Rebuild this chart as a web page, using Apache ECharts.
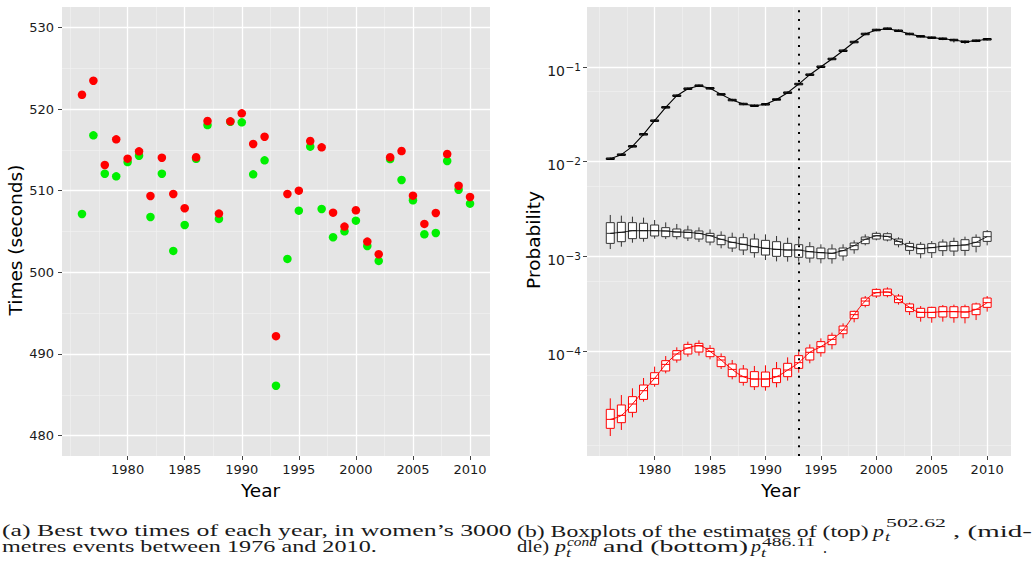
<!DOCTYPE html>
<html><head><meta charset="utf-8">
<script src="https://cdn.jsdelivr.net/npm/echarts@6/dist/echarts.min.js"></script>
<style>html,body{margin:0;padding:0;background:#fff}#c{width:1033px;height:568px}</style>
</head><body><div id="c"></div>
<script>
// ---------------- DATA ----------------
const years = [1976,1977,1978,1979,1980,1981,1982,1983,1984,1985,1986,1987,1988,1989,1990,1991,1992,1993,1994,1995,1996,1997,1998,1999,2000,2001,2002,2003,2004,2005,2006,2007,2008,2009,2010];
// (a) best (green) and second best (red) times, seconds
const bestTime = [507.15,516.78,512.08,511.76,513.51,514.28,506.78,512.08,502.62,505.80,513.90,518.04,506.54,518.45,518.37,512.00,513.72,486.11,501.64,507.55,515.39,507.76,504.30,505.03,506.33,503.23,501.40,513.88,511.31,508.82,504.66,504.82,513.64,510.12,508.41];
const secondTime = [521.75,523.47,513.15,516.29,513.92,514.82,509.35,514.04,509.60,507.85,514.09,518.53,507.19,518.49,519.47,515.72,516.61,492.18,509.60,510.00,516.08,515.31,507.31,505.60,507.60,503.76,502.22,514.09,514.86,509.39,505.93,507.27,514.49,510.61,509.23];
const timeTicks = [480,490,500,510,520,530];
const timeMinor = [485,495,505,515,525];
const yearTicks = [1980,1985,1990,1995,2000,2005,2010];
const yearMinor = [1975,1977.5,1982.5,1987.5,1992.5,1997.5,2002.5,2007.5];

// (b) boxplot statistics, stored as log10(probability): whisker high, Q3, median, Q1, whisker low
const topHigh = [-1.956,-1.913,-1.825,-1.698,-1.554,-1.413,-1.290,-1.216,-1.184,-1.212,-1.276,-1.336,-1.378,-1.396,-1.381,-1.330,-1.258,-1.167,-1.068,-0.984,-0.902,-0.815,-0.723,-0.638,-0.596,-0.582,-0.604,-0.638,-0.663,-0.677,-0.688,-0.702,-0.720,-0.709,-0.694];
const topQ3   = [-1.961,-1.918,-1.830,-1.703,-1.559,-1.418,-1.295,-1.221,-1.189,-1.217,-1.281,-1.341,-1.383,-1.401,-1.386,-1.335,-1.263,-1.172,-1.073,-0.989,-0.907,-0.820,-0.728,-0.643,-0.601,-0.587,-0.609,-0.643,-0.668,-0.682,-0.693,-0.707,-0.725,-0.714,-0.699];
const topMed  = [-1.969,-1.926,-1.838,-1.711,-1.567,-1.426,-1.303,-1.229,-1.197,-1.225,-1.289,-1.349,-1.391,-1.409,-1.394,-1.343,-1.271,-1.180,-1.081,-0.997,-0.915,-0.828,-0.736,-0.651,-0.609,-0.595,-0.617,-0.651,-0.676,-0.690,-0.701,-0.715,-0.733,-0.722,-0.707];
const topQ1   = [-1.977,-1.934,-1.846,-1.719,-1.575,-1.434,-1.311,-1.237,-1.205,-1.233,-1.297,-1.357,-1.399,-1.417,-1.402,-1.351,-1.279,-1.188,-1.089,-1.005,-0.923,-0.836,-0.744,-0.659,-0.617,-0.603,-0.625,-0.659,-0.684,-0.698,-0.709,-0.723,-0.741,-0.730,-0.715];
const topLow  = [-1.982,-1.939,-1.851,-1.724,-1.580,-1.439,-1.316,-1.242,-1.210,-1.238,-1.302,-1.362,-1.404,-1.422,-1.407,-1.356,-1.284,-1.193,-1.094,-1.010,-0.928,-0.841,-0.749,-0.664,-0.622,-0.608,-0.630,-0.664,-0.689,-0.703,-0.716,-0.740,-0.755,-0.737,-0.720];

const condHigh = [-2.563,-2.570,-2.581,-2.591,-2.616,-2.641,-2.658,-2.676,-2.694,-2.715,-2.736,-2.750,-2.757,-2.761,-2.768,-2.785,-2.803,-2.817,-2.849,-2.873,-2.873,-2.873,-2.831,-2.768,-2.739,-2.746,-2.799,-2.838,-2.849,-2.838,-2.820,-2.803,-2.792,-2.768,-2.722];
const condQ3   = [-2.644,-2.641,-2.644,-2.651,-2.669,-2.697,-2.711,-2.722,-2.732,-2.757,-2.778,-2.799,-2.803,-2.817,-2.831,-2.845,-2.863,-2.877,-2.898,-2.912,-2.922,-2.912,-2.859,-2.796,-2.757,-2.761,-2.817,-2.863,-2.873,-2.866,-2.849,-2.842,-2.824,-2.799,-2.739];
const condMed  = [-2.757,-2.746,-2.729,-2.729,-2.729,-2.732,-2.743,-2.746,-2.757,-2.782,-2.820,-2.852,-2.873,-2.898,-2.915,-2.926,-2.933,-2.933,-2.951,-2.961,-2.968,-2.940,-2.887,-2.820,-2.782,-2.789,-2.842,-2.898,-2.919,-2.908,-2.894,-2.887,-2.880,-2.852,-2.792];
const condQ1   = [-2.863,-2.845,-2.813,-2.810,-2.785,-2.792,-2.792,-2.806,-2.817,-2.849,-2.877,-2.912,-2.933,-2.961,-2.986,-3.000,-3.003,-3.010,-3.018,-3.025,-3.025,-2.996,-2.930,-2.866,-2.817,-2.827,-2.877,-2.937,-2.972,-2.961,-2.940,-2.944,-2.937,-2.894,-2.842];
const condLow  = [-2.923,-2.898,-2.856,-2.845,-2.813,-2.817,-2.820,-2.838,-2.849,-2.884,-2.915,-2.954,-2.986,-3.014,-3.039,-3.053,-3.056,-3.056,-3.067,-3.074,-3.077,-3.046,-2.972,-2.884,-2.831,-2.842,-2.905,-2.982,-3.021,-3.018,-2.996,-2.996,-2.993,-2.958,-2.884];

const lowHigh = [-4.500,-4.465,-4.394,-4.285,-4.165,-4.053,-3.961,-3.901,-3.887,-3.937,-4.025,-4.095,-4.148,-4.158,-4.151,-4.116,-4.067,-4.007,-3.930,-3.866,-3.806,-3.708,-3.574,-3.419,-3.338,-3.327,-3.398,-3.489,-3.525,-3.532,-3.514,-3.510,-3.510,-3.489,-3.419];
const lowQ3   = [-4.616,-4.570,-4.482,-4.359,-4.229,-4.102,-3.996,-3.930,-3.919,-3.972,-4.060,-4.137,-4.190,-4.218,-4.222,-4.187,-4.130,-4.049,-3.968,-3.901,-3.834,-3.736,-3.581,-3.440,-3.349,-3.345,-3.419,-3.503,-3.549,-3.539,-3.532,-3.532,-3.532,-3.503,-3.440];
const lowMed  = [-4.722,-4.680,-4.560,-4.419,-4.289,-4.141,-4.032,-3.968,-3.944,-4.004,-4.095,-4.194,-4.271,-4.296,-4.296,-4.271,-4.201,-4.123,-4.014,-3.954,-3.877,-3.778,-3.616,-3.472,-3.384,-3.377,-3.454,-3.539,-3.592,-3.592,-3.584,-3.584,-3.588,-3.560,-3.489];
const lowQ1   = [-4.817,-4.757,-4.648,-4.511,-4.352,-4.211,-4.095,-4.032,-4.011,-4.060,-4.165,-4.271,-4.331,-4.377,-4.377,-4.334,-4.271,-4.183,-4.095,-4.018,-3.933,-3.817,-3.658,-3.518,-3.419,-3.415,-3.489,-3.584,-3.644,-3.648,-3.641,-3.648,-3.648,-3.616,-3.539];
const lowLow  = [-4.898,-4.834,-4.701,-4.535,-4.377,-4.236,-4.123,-4.060,-4.049,-4.088,-4.190,-4.299,-4.366,-4.412,-4.419,-4.384,-4.313,-4.229,-4.130,-4.060,-3.982,-3.866,-3.697,-3.539,-3.440,-3.433,-3.510,-3.620,-3.690,-3.701,-3.690,-3.701,-3.708,-3.673,-3.584];

const probTicks = [-4,-3,-2,-1];                        // log10 of 1e-4 ... 1e-1
const probMinor = [-5,-4.2596,-3.2596,-2.2596,-1.2596]; // 1e-5, 5.5e-5, 5.5e-4, 5.5e-3, 5.5e-2
const refYear = 1993;

// ---------------- HELPERS ----------------
const SANS = 'DejaVu Sans';
const SERIF = 'Liberation Serif';
const TXT = '#1a1a1a';

function gridMarks(xMaj, xMin, yMaj, yMin) {
  const maj = {color:'#FFFFFF', width:1.3, type:'solid'};
  const mn = {color:'#F2F2F2', width:0.6, type:'solid'};
  return [].concat(
    xMin.map(v => ({xAxis:v, lineStyle:mn})),
    yMin.map(v => ({yAxis:v, lineStyle:mn})),
    xMaj.map(v => ({xAxis:v, lineStyle:maj})),
    yMaj.map(v => ({yAxis:v, lineStyle:maj}))
  );
}
function boxRows(h,q3,m,q1,l) { return years.map((y,i) => [y, h[i], q3[i], m[i], q1[i], l[i]]); }
function boxRenderer(color) {
  return function (params, api) {
    const x = api.value(0);
    const hi = api.coord([x, api.value(1)]);
    const q3 = api.coord([x, api.value(2)]);
    const md = api.coord([x, api.value(3)]);
    const q1 = api.coord([x, api.value(4)]);
    const lo = api.coord([x, api.value(5)]);
    const hw = api.size([0.72, 0])[0] / 2;
    const cx = md[0];
    const st = {stroke: color, lineWidth: 1, fill: null};
    return {type:'group', children:[
      {type:'line', shape:{x1:cx, y1:hi[1], x2:cx, y2:q3[1]}, style:st},
      {type:'line', shape:{x1:cx, y1:q1[1], x2:cx, y2:lo[1]}, style:st},
      {type:'rect', shape:{x:cx-hw, y:q3[1], width:2*hw, height:Math.max(q1[1]-q3[1], 0.5)}, style:{stroke:color, lineWidth:1, fill:'#FFFFFF'}},
      {type:'line', shape:{x1:cx-hw, y1:md[1], x2:cx+hw, y2:md[1]}, style:st}
    ]};
  };
}

// caption text pieces, horizontally fitted to the reference extents
const mctx = document.createElement('canvas').getContext('2d');
function capText(str, x0, x1, base, size, italic) {
  const fontStyle = italic ? 'italic' : 'normal';
  mctx.font = fontStyle + ' ' + size + 'px "' + SERIF + '"';
  const w = mctx.measureText(str).width;
  const sx = (x1 - x0) / w;
  return {type:'text', x:x0, y:base - 0.34*size, scaleX:sx, scaleY:1, silent:true,
    style:{text:str, fill:'#1a1a1a', fontSize:size, fontFamily:SERIF, fontStyle:fontStyle,
      align:'left', textAlign:'left', verticalAlign:'middle', textVerticalAlign:'middle'}};
}

// ---------------- CHART ----------------
const chart = echarts.init(document.getElementById('c'), null, {renderer:'svg', width:1033, height:568});

const axisCommon = {type:'value', axisLine:{show:false}, splitLine:{show:false}, nameLocation:'middle'};
const tickStyle = {show:true, length:4, lineStyle:{color:'#444', width:1}};
const labelStyle = {fontFamily:SANS, fontSize:13, color:TXT};
const nameStyle = {fontFamily:SANS, fontSize:18.5, color:'#000'};
const yearLabel = v => String(v);

const option = {
  animation:false,
  backgroundColor:'#FFFFFF',
  grid:[
    {left:62, top:7, width:428, height:449, show:true, backgroundColor:'#E5E5E5', borderWidth:0},
    {left:587, top:7, width:424, height:449, show:true, backgroundColor:'#E5E5E5', borderWidth:0}
  ],
  xAxis:[
    Object.assign({}, axisCommon, {gridIndex:0, min:1974.25, max:2011.75,
      name:'Year', nameGap:18,
      nameTextStyle:Object.assign({padding:[0,31,0,0]}, nameStyle),
      axisTick:Object.assign({customValues:yearTicks}, tickStyle),
      axisLabel:Object.assign({customValues:yearTicks, margin:7, formatter:yearLabel}, labelStyle)}),
    Object.assign({}, axisCommon, {gridIndex:1, min:1973.9, max:2012.15,
      name:'Year', nameGap:18,
      nameTextStyle:Object.assign({padding:[0,37,0,0]}, nameStyle),
      axisTick:Object.assign({customValues:yearTicks}, tickStyle),
      axisLabel:Object.assign({customValues:yearTicks, margin:7, formatter:yearLabel}, labelStyle)})
  ],
  yAxis:[
    Object.assign({}, axisCommon, {gridIndex:0, min:477.5, max:532.5,
      name:'Times (seconds)', nameGap:32, nameRotate:90,
      nameTextStyle:Object.assign({padding:[0,17,0,0]}, nameStyle),
      axisTick:Object.assign({customValues:timeTicks}, tickStyle),
      axisLabel:Object.assign({customValues:timeTicks, margin:8}, labelStyle)}),
    Object.assign({}, axisCommon, {gridIndex:1, min:-5.109, max:-0.366,
      name:'Probability', nameGap:36, nameRotate:90,
      nameTextStyle:Object.assign({padding:[0,17,0,0]}, nameStyle),
      axisTick:Object.assign({customValues:probTicks}, tickStyle),
      axisLabel:{customValues:probTicks, margin:6,
        formatter:function (v) { return '{b|10}{e|\u2212' + Math.abs(Math.round(v)) + '}'; },
        rich:{
          b:{fontFamily:SANS, fontSize:14, color:TXT, lineHeight:14, padding:[7,0,0,0]},
          e:{fontFamily:SANS, fontSize:10.5, color:TXT, lineHeight:11, padding:[1,0,0,0.5], verticalAlign:'top'}
        }}})
  ],
  series:[
    {type:'line', xAxisIndex:0, yAxisIndex:0, data:[], z:1, silent:true,
      markLine:{silent:true, z:1, symbol:['none','none'], label:{show:false}, animation:false,
        data:gridMarks(yearTicks, yearMinor, timeTicks, timeMinor)}},
    {name:'best', type:'scatter', xAxisIndex:0, yAxisIndex:0, z:3, symbolSize:8.5,
      itemStyle:{color:'#00F000', opacity:1}, data:years.map((y,i) => [y, bestTime[i]])},
    {name:'second', type:'scatter', xAxisIndex:0, yAxisIndex:0, z:4, symbolSize:8.5,
      itemStyle:{color:'#FF0000', opacity:1}, data:years.map((y,i) => [y, secondTime[i]])},

    {type:'line', xAxisIndex:1, yAxisIndex:1, data:[], z:1, silent:true,
      markLine:{silent:true, z:1, symbol:['none','none'], label:{show:false}, animation:false,
        data:gridMarks(yearTicks, yearMinor, probTicks, probMinor)}},
    {type:'custom', xAxisIndex:1, yAxisIndex:1, z:3, clip:true, renderItem:boxRenderer('#000000'),
      encode:{x:0, y:[1,2,3,4,5]}, data:boxRows(topHigh, topQ3, topMed, topQ1, topLow)},
    {type:'custom', xAxisIndex:1, yAxisIndex:1, z:3, clip:true, renderItem:boxRenderer('#333333'),
      encode:{x:0, y:[1,2,3,4,5]}, data:boxRows(condHigh, condQ3, condMed, condQ1, condLow)},
    {type:'custom', xAxisIndex:1, yAxisIndex:1, z:3, clip:true, renderItem:boxRenderer('#FF0000'),
      encode:{x:0, y:[1,2,3,4,5]}, data:boxRows(lowHigh, lowQ3, lowMed, lowQ1, lowLow)},
    {type:'line', xAxisIndex:1, yAxisIndex:1, z:4, symbol:'none', silent:true,
      lineStyle:{color:'#000', width:1.1}, data:years.map((y,i) => [y, topMed[i]])},
    {type:'line', xAxisIndex:1, yAxisIndex:1, z:4, symbol:'none', silent:true,
      lineStyle:{color:'#000', width:0.8}, data:years.map((y,i) => [y, condMed[i]])},
    {type:'line', xAxisIndex:1, yAxisIndex:1, z:4, symbol:'none', silent:true, smooth:0.35,
      lineStyle:{color:'#FF0000', width:1}, data:years.map((y,i) => [y, lowMed[i]])},
    {type:'line', xAxisIndex:1, yAxisIndex:1, data:[], z:5, silent:true,
      markLine:{silent:true, z:5, symbol:['none','none'], label:{show:false}, animation:false,
        lineStyle:{color:'#000', width:2, type:[2,6.7]}, data:[{xAxis:refYear}]}}
  ],
  graphic:[
    capText('(a) Best two times of each year, in women\u2019s 3000', 2, 512, 536.7, 16, false),
    capText('metres events between 1976 and 2010.', 2, 377, 551.7, 16, false),
    capText('(b) Boxplots of the estimates of (top)', 517, 869, 536.7, 16, false),
    capText('p', 873, 884, 536.7, 16, true),
    capText('502.62', 886, 946, 527, 12, false),
    capText('t', 885, 890, 540.5, 12, true),
    capText(', (mid-', 953, 1032, 536.7, 16, false),
    capText('dle)', 517, 549, 552.5, 16, false),
    capText('p', 555, 566, 552.5, 16, true),
    capText('cond', 567, 597, 546, 12, true),
    capText('t', 566, 571, 556.5, 12, true),
    capText('and (bottom)', 603, 748, 552.5, 16, false),
    capText('p', 751, 761, 552.5, 16, true),
    capText('486.11', 762, 815, 546, 12, false),
    capText('t', 761, 766, 556.5, 12, true),
    capText('.', 823, 827, 552.5, 16, false)
  ]
};
chart.setOption(option);
</script></body></html>
